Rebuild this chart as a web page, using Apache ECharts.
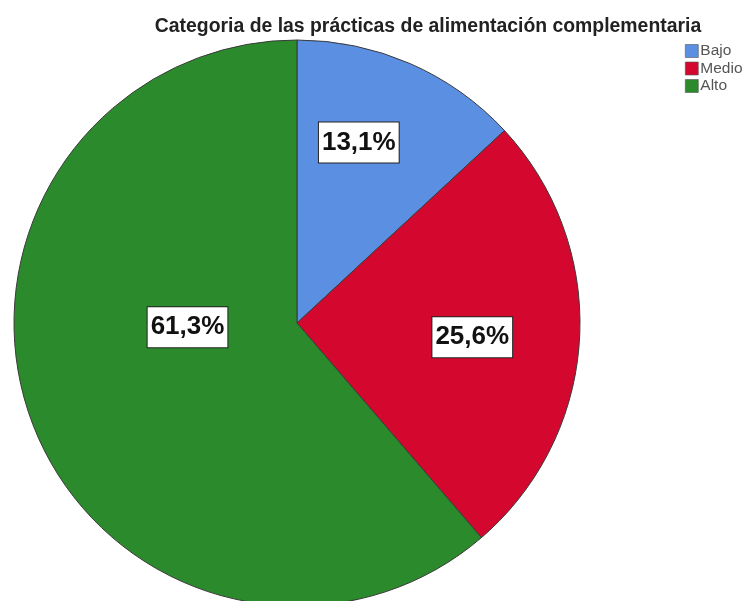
<!DOCTYPE html>
<html><head><meta charset="utf-8">
<script src="https://cdn.jsdelivr.net/npm/echarts@6/dist/echarts.min.js"></script>
<style>html,body{margin:0;padding:0;background:#fff}#c{width:749px;height:601px}</style>
</head><body><div id="c"></div>
<script>
const categories = ['Bajo', 'Medio', 'Alto'];
const values = [13.1, 25.6, 61.3];
const labels = ['13,1%', '25,6%', '61,3%'];
const colors = ['#5a8fe2', '#d4082e', '#2b8a2b'];
const labelShift = [[4, -48], [31, 6], [26, -46]];

const chart = echarts.init(document.getElementById('c'), null, {renderer: 'canvas'});
chart.setOption({
  animation: false,
  title: {
    text: 'Categoria de las prácticas de alimentación complementaria',
    left: 423, top: 12, textAlign: 'center',
    textStyle: {fontFamily: 'Liberation Sans, Arial, sans-serif', fontWeight: 'bold', fontSize: 19.4, color: '#222'}
  },
  legend: {
    orient: 'vertical', left: 685, top: 43, padding: 0,
    itemWidth: 13, itemHeight: 13, itemGap: 1.5,
    icon: 'rect',
    textStyle: {fontFamily: 'Liberation Sans, Arial, sans-serif', fontSize: 15.5, color: '#555', padding: [0, 0, 0, -3]},
    data: categories.map((c, i) => ({name: c, itemStyle: {borderColor: '#555', borderWidth: 0.6}}))
  },
  series: [{
    type: 'pie',
    center: [297, 323], radius: 283,
    startAngle: 90, clockwise: true,
    data: categories.map((c, i) => ({name: c, value: values[i], itemStyle: {color: colors[i]}})),
    itemStyle: {borderColor: '#3a3a3a', borderWidth: 1},
    label: {
      show: true, position: 'inside',
      formatter: p => labels[p.dataIndex],
      fontFamily: 'Liberation Sans, Arial, sans-serif', fontWeight: 'bold', fontSize: 26, color: '#111',
      backgroundColor: '#fff', borderColor: '#222', borderWidth: 1, padding: [8, 3, 6, 3]
    },
    labelLayout: p => ({dx: labelShift[p.dataIndex][0], dy: labelShift[p.dataIndex][1]}),
    labelLine: {show: false},
    emphasis: {disabled: true}
  }]
});
</script></body></html>
